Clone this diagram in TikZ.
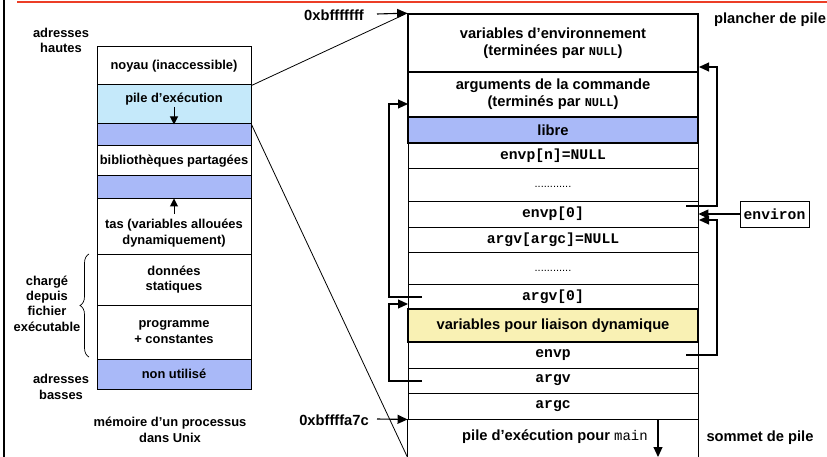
\documentclass[tikz,border=0pt]{standalone}
\usepackage{fontspec}
\setmainfont{Liberation Sans}
\setmonofont{Liberation Mono}
\usetikzlibrary{arrows.meta,decorations.pathreplacing,calc}

\definecolor{stackblue}{RGB}{197,233,250}
\definecolor{freeblue}{RGB}{169,185,248}
\definecolor{linkyellow}{RGB}{249,241,180}
\definecolor{rulered}{RGB}{236,62,38}

\newcommand{\smallfont}{\fontsize{12.9}{15.4}\selectfont\bfseries}
\newcommand{\bigfont}{\fontsize{14.7}{17.2}\selectfont\bfseries}
\newcommand{\nullword}{{\fontsize{12}{13}\selectfont\ttfamily\bfseries NULL}}

\begin{document}
\begin{tikzpicture}[x=1pt,y=-1pt,
  memcell/.style={draw, line width=1pt, minimum width=154pt, inner sep=0pt,
    align=center, font=\smallfont},
  cell/.style={draw, line width=0.9pt, minimum width=290pt, inner sep=0pt,
    align=center, font=\bigfont},
  thickcell/.style={cell, line width=1.7pt},
  smalltext/.style={inner sep=0pt, align=center, font=\smallfont},
  bigtext/.style={inner sep=0pt, align=center, font=\bigfont},
  dotfill/.style={inner sep=0pt, font=\fontsize{11}{13}\selectfont},
  ptr/.style={line width=1.1pt, -{Triangle[length=10pt,width=9pt]}},
  smallptr/.style={line width=1pt, -{Triangle[length=8pt,width=8pt]}},
  plain/.style={line width=0.9pt},
]
\useasboundingbox (0,0) rectangle (827,457);

% page frame: red rule on top, black rule on the left
\draw[rulered, line width=1.6pt] (17,2) -- (827,2);
\draw[line width=1.4pt] (4,0) -- (4,457);

% ---------- address space of a process ----------
\node[memcell, minimum height=38pt] (noyau) at (174,66) {noyau (inaccessible)};
\node[memcell, minimum height=39pt, fill=stackblue] (pilebox) at (174,104.5) {};
\node[smalltext] (pilelbl) at (174,99) {pile d’exécution};
\coordinate (piletip) at (174,107);
\node[memcell, minimum height=22pt, fill=freeblue] (gap1) at (174,135) {};
\node[memcell, minimum height=30pt] (biblio) at (174,161) {bibliothèques partagées};
\node[memcell, minimum height=23pt, fill=freeblue] (gap2) at (174,187.5) {};
\node[memcell, minimum height=55pt] (tas) at (174,226.5) {};
\node[smalltext] (taslbl) at (174,233) {tas (variables allouées\\dynamiquement)};
\coordinate (tastail) at (174,214);
\node[memcell, minimum height=51pt] (donnees) at (174,279.5) {données\\statiques};
\node[memcell, minimum height=54pt] (prog) at (174,332) {programme\\+ constantes};
\node[memcell, minimum height=30pt, fill=freeblue] (unused) at (174,374) {non utilisé};

\draw[smallptr] (piletip) -- (pilebox.south);
\draw[smallptr] (tastail) -- (tas.north);

\node[smalltext] (hautes) at (61,40.5) {adresses\\hautes};
\node[smalltext] (basses) at (61,387) {adresses\\basses};
\node[smalltext] (charge) at (47,303.5) {chargé\\depuis\\fichier\\exécutable};
\node[smalltext] (caption) at (170,430) {mémoire d’un processus\\dans Unix};
\draw[line width=0.7pt, decorate, decoration={brace, amplitude=9pt}]
  (89,357) -- (89,254);

% ---------- detail of the stack ----------
\node[thickcell, minimum height=58pt] (env) at (553,43)
  {variables d’environnement\\(terminées par \nullword)};
\node[thickcell, minimum height=45pt] (args) at (553,94.5)
  {arguments de la commande\\(terminés par \nullword)};
\node[thickcell, minimum height=26pt, fill=freeblue] (libre) at (553,130) {libre};
\node[cell, minimum height=25pt] (envpn) at (553,155.5) {\ttfamily envp[n]=NULL};
\node[cell, minimum height=33pt] (dotsa) at (553,184.5) {};
\node[dotfill] (dotsalbl) at (553,187) {............};
\node[cell, minimum height=26pt] (envp0) at (553,214) {\ttfamily envp[0]};
\node[cell, minimum height=25pt] (argvargc) at (553,239.5) {\ttfamily argv[argc]=NULL};
\node[cell, minimum height=32pt] (dotsb) at (553,268) {};
\node[dotfill] (dotsblbl) at (553,271) {............};
\node[cell, minimum height=25pt] (argv0) at (553,296.5) {\ttfamily argv[0]};
\node[thickcell, minimum height=33pt, fill=linkyellow] (liaison) at (553,325.5)
  {variables pour liaison dynamique};
\node[cell, minimum height=26pt] (envp) at (553,355) {\ttfamily envp};
\node[cell, minimum height=25pt] (argv) at (553,380.5) {\ttfamily argv};
\node[cell, minimum height=26pt] (argc) at (553,406) {\ttfamily argc};
\node[cell, draw=none, minimum height=38pt] (mainframe) at (553,438) {};
\node[bigtext] (mainlbl) at (555,437)
  {pile d’exécution pour {\fontsize{14}{16}\selectfont\ttfamily\mdseries main}};
\draw[plain] (argc.south west) -- (mainframe.south west);
\draw[plain] (argc.south east) -- (mainframe.south east);
\coordinate (growtop) at (658,419);
\coordinate (growend) at (658,457);
\draw[ptr] (growtop) -- (growend);

% address marks
\node[bigtext] (addrhigh) at (334,15) {0xbfffffff};
\node[bigtext] (addrlow) at (334,420) {0xbffffa7c};
\coordinate (addrhighptr) at (377,14);
\coordinate (addrlowptr) at (377,419);
\draw[ptr] (addrhighptr) -- (env.north west);
\draw[ptr] (addrlowptr) -- (argc.south west);

\node[bigtext] (plancher) at (770,20) {plancher de pile};
\node[bigtext] (sommet) at (760,438) {sommet de pile};

% zoom lines from the address space to the stack detail
\draw[line width=0.8pt] (noyau.south east) -- (env.north west);
\draw[line width=0.8pt] (pilebox.south east) -- (mainframe.south west);

% environ variable
\node[draw, line width=0.8pt, minimum width=69pt, minimum height=26pt, inner sep=0pt,
  font=\bigfont\ttfamily] (environ) at (774.5,214) {environ};
\draw[ptr] (environ.west) -- (envp0.east);

% pointers inside the stack
\coordinate (envp0src) at (686,206);
\coordinate (envsink) at (699,67);
\draw[ptr] (envp0src) -- (717,206) |- (envsink);

\coordinate (envpsrc) at (686,355);
\coordinate (envp0sink) at (699,220);
\draw[ptr] (envpsrc) -- (717,355) |- (envp0sink);

\coordinate (argv0src) at (422,297);
\coordinate (argssink) at (408,104);
\draw[ptr] (argv0src) -- (389,297) |- (argssink);

\coordinate (argvsrc) at (422,381);
\coordinate (argv0sink) at (408,304);
\draw[ptr] (argvsrc) -- (389,381) |- (argv0sink);
\end{tikzpicture}
\end{document}
